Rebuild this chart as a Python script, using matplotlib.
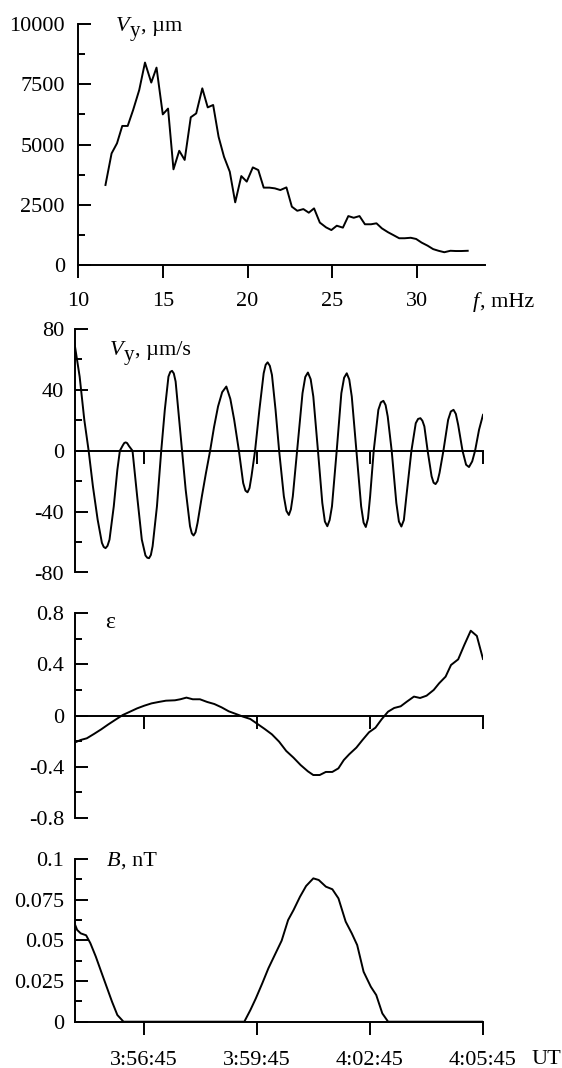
import numpy as np
import matplotlib.pyplot as plt
from matplotlib.ticker import MultipleLocator

plt.rcParams['font.family'] = ['Liberation Serif', 'DejaVu Serif']
plt.rcParams['font.size'] = 16
plt.rcParams['axes.unicode_minus'] = False

# --- spectrum (top panel) ---
freq = [11.62, 11.98, 12.30, 12.61, 12.93, 13.25, 13.61, 13.95, 14.32, 14.63,
        15.00, 15.31, 15.63, 15.97, 16.29, 16.65, 16.97, 17.33, 17.65, 17.97,
        18.29, 18.61, 18.95, 19.27, 19.63, 19.95, 20.31, 20.63, 20.95, 21.29,
        21.61, 21.93, 22.29, 22.61, 22.93, 23.29, 23.61, 23.92, 24.26, 24.63,
        24.94, 25.26, 25.62, 25.94, 26.26, 26.60, 26.92, 27.28, 27.60, 27.92,
        28.28, 28.60, 28.94, 29.26, 29.62, 29.94, 30.26, 30.62, 30.94, 31.26,
        31.60, 31.96, 32.28, 32.60, 32.98]
spec = [3320, 4630, 5050, 5770, 5770, 6430, 7260, 8400, 7570, 8190,
        6250, 6490, 3970, 4740, 4360, 6130, 6290, 7330, 6540, 6640,
        5320, 4490, 3870, 2600, 3690, 3460, 4050, 3940, 3210, 3210,
        3180, 3110, 3220, 2420, 2250, 2320, 2170, 2350, 1760, 1560,
        1450, 1630, 1550, 2030, 1960, 2030, 1690, 1690, 1730, 1520,
        1360, 1240, 1110, 1110, 1130, 1080, 930, 800, 660, 590,
        530, 590, 580, 580, 590]

# --- time series, seconds after 3:56:45 UT ---
t_vy = [-110, -101.8, -94.4, -87.5, -80.7, -73.2, -66.4, -63.5, -60.6, -57.5,
        -54.3, -47.5, -41.8, -37.8, -33.2, -30.8, -28.6, -26.2, -23.5, -17.7,
        -10.3, -2.9, 2.9, 5.8, 8.6, 11.5, 14.3, 21.2, 28.0, 33.7,
        39.5, 42.4, 45.2, 48.0, 50.9, 56.6, 61.2, 66.9, 73.8, 76.7,
        79.5, 82.6, 85.8, 92.7, 99.0, 105.8, 112.0, 118.4, 125.0, 131.6,
        138.0, 144.1, 151.6, 158.4, 162.0, 165.3, 168.5, 171.6, 177.3, 184.2,
        191.0, 194.2, 197.3, 200.8, 204.2, 209.9, 215.6, 223.1, 227.2, 231.1,
        234.3, 237.4, 244.2, 252.8, 257.2, 261.4, 265.8, 270.0, 277.4, 284.3,
        288.4, 292.3, 296.0, 299.7, 307.2, 314.6, 319.0, 323.2, 327.2, 331.2,
        338.6, 346.1, 350.0, 353.5, 357.0, 360.4, 366.1, 373.5, 377.5, 381.5,
        385.0, 388.4, 394.7, 402.1, 406.2, 410.1, 414.1, 418.1, 426.1, 433.0,
        436.7, 440.4, 443.6, 446.7, 451.9, 458.2, 461.4, 464.5, 467.7, 470.8,
        477.0, 484.5, 488.8, 493.1, 496.8, 500.5, 507.4, 513.1, 517.7, 522.8,
        527.4, 533.7, 540.0]
vy = [70.6, 48.7, 20.3, 0, -23.4, -45.2, -60.5, -63.2, -64.0, -62.5,
      -58.4, -36.5, -12.5, 0, 3.5, 5.1, 5.5, 5.0, 3.2, 0,
      -29.9, -58.4, -68.8, -70.3, -70.6, -68.5, -62.7, -36.5, 0, 26.9,
      48.7, 51.8, 52.5, 50.8, 45.5, 20.3, 0, -25.6, -49.6, -54.3,
      -55.7, -53.6, -47.4, -29.9, -15.0, 0, 15.5, 29.1, 38.5, 42.2,
      34.0, 20.3, 0, -21.2, -26.2, -27.3, -24.5, -16.8, 0, 26.9,
      50.9, 56.5, 58.1, 55.8, 49.8, 26.9, 0, -29.9, -39.5, -42.2,
      -38.5, -29.9, 0, 37.8, 48.5, 51.4, 47.0, 35.6, 0, -34.3,
      -46.5, -49.6, -45.5, -36.5, 0, 37.8, 48.0, 50.9, 46.8, 35.6,
      0, -36.5, -47.2, -50.1, -44.5, -29.9, 0, 26.9, 31.8, 32.8,
      30.0, 22.5, 0, -34.3, -46.5, -49.8, -45.5, -29.9, 0, 18.1,
      20.9, 21.4, 19.7, 16.0, 0, -16.8, -21.0, -21.9, -19.9, -14.6,
      0, 20.3, 25.8, 26.9, 24.2, 17.0, 0, -9.2, -10.7, -7.0,
      0, 13.8, 23.6]

t_eps = [-110, -100.1, -90.4, -79.0, -67.5, -56.1, -44.6, -33.2, -21.7, -10.3,
         1.1, 12.6, 24.0, 35.5, 49.8, 58.4, 68.1, 78.2, 89.6, 101.1,
         112.5, 124.0, 135.4, 146.9, 158.3, 169.7, 181.2, 192.6, 204.1, 215.5,
         226.9, 238.4, 249.8, 261.3, 269.9, 280.2, 289.9, 300.2, 309.9, 318.5,
         327.1, 338.5, 348.3, 358.6, 368.9, 378.6, 388.9, 398.7, 409.0, 418.7,
         430.1, 439.9, 450.2, 461.6, 470.2, 480.5, 489.1, 500.5, 510.2, 520.5,
         530.2, 540.0]
eps = [-0.211, -0.190, -0.177, -0.143, -0.107, -0.068, -0.031, 0.005, 0.031, 0.057,
       0.078, 0.096, 0.107, 0.117, 0.120, 0.128, 0.141, 0.128, 0.128, 0.107,
       0.091, 0.065, 0.034, 0.013, -0.008, -0.026, -0.065, -0.104, -0.146, -0.203,
       -0.276, -0.328, -0.386, -0.435, -0.464, -0.464, -0.440, -0.440, -0.412, -0.347,
       -0.302, -0.250, -0.190, -0.130, -0.094, -0.029, 0.031, 0.060, 0.073, 0.109,
       0.149, 0.138, 0.156, 0.201, 0.253, 0.305, 0.396, 0.440, 0.552, 0.664,
       0.623, 0.443]

t_b = [-110, -105.8, -100.1, -91.5, -84.7, -76.1, -67.5, -58.9, -50.3, -41.8,
       -32.0, 160.2, 169.9, 178.5, 188.8, 198.5, 209.9, 219.6, 229.9, 238.5,
       248.8, 258.5, 270.0, 278.6, 290.0, 300.3, 310.0, 321.5, 331.2, 339.8,
       350.0, 361.5, 370.1, 379.8, 389.0, 540.0]
b_nt = [0.0605, 0.0564, 0.0543, 0.0531, 0.0482, 0.0400, 0.0307, 0.0215, 0.0123, 0.0041,
        0, 0, 0.0072, 0.0143, 0.0236, 0.0328, 0.0420, 0.0498, 0.0625, 0.0686,
        0.0768, 0.0834, 0.0881, 0.0871, 0.0830, 0.0814, 0.0758, 0.0615, 0.0543, 0.0471,
        0.0307, 0.0215, 0.0164, 0.0051, 0, 0]

time_labels = ['3:56:45', '3:59:45', '4:02:45', '4:05:45']
spec_ticks = [0, 2500, 5000, 7500, 10000]
vy_ticks = [-80, -40, 0, 40, 80]
eps_ticks = [-0.8, -0.4, 0, 0.4, 0.8]
eps_labels = ['-0.8', '-0.4', '0', '0.4', '0.8']
b_ticks = [0, 0.025, 0.05, 0.075, 0.1]
b_labels = ['0', '0.025', '0.05', '0.075', '0.1']


def to_sec(s):
    h, m, sec = [int(v) for v in s.split(':')]
    return h * 3600 + m * 60 + sec

t_ref = to_sec('3:56:45')
time_ticks = [to_sec(s) - t_ref for s in time_labels]

W, H = 562, 1068
fig = plt.figure(figsize=(W / 100, H / 100), dpi=100)
renderer = fig.canvas.get_renderer()


def box(l, r, t, b):
    return [l / W, 1 - b / H, (r - l) / W, (b - t) / H]


def style(ax, ypad=7.5):
    for s in ['top', 'right']:
        ax.spines[s].set_visible(False)
    for s in ['left', 'bottom']:
        ax.spines[s].set_linewidth(1.4)
    ax.tick_params(axis='y', which='major', direction='in', length=9.5, width=1.4, pad=ypad)
    ax.tick_params(axis='y', which='minor', direction='in', length=5, width=1.4)
    ax.tick_params(axis='x', which='major', direction='out', length=9, width=1.4)


def fix_ylabels(ax):
    # the printed figure sits its tick numbers a little below the tick
    plt.setp(ax.get_yticklabels(), va='center_baseline')


def label(x, y, parts):
    # pieces of text written one after the other, (text, style, size, drop in px)
    for s, st, size, dy in parts:
        t = fig.text(x / W, 1 - (y + dy) / H, s, fontsize=size, style=st)
        x = t.get_window_extent(renderer).x1 + 0.5


lw = 1.4

# top: spectrum
ax1 = fig.add_axes(box(78, 485, 24, 265))
style(ax1, ypad=9.5)
ax1.plot(freq, spec, color='black', lw=lw)
ax1.set_xlim(10, 34)
ax1.set_ylim(0, 10000)
ax1.set_xticks([10, 15, 20, 25, 30])
ax1.set_yticks(spec_ticks)
ax1.set_yticklabels([str(v) for v in spec_ticks])
ax1.yaxis.set_minor_locator(MultipleLocator(1250))
ax1.tick_params(axis='x', pad=10.5)
fix_ylabels(ax1)
label(116, 31, [('V', 'italic', 16, 0), ('y', 'normal', 15, 5), (', µm', 'normal', 16, 0)])
label(473, 307, [('f', 'italic', 16, 0), (', mHz', 'normal', 16, 0)])

# Vy oscillation
ax2 = fig.add_axes(box(74.5, 483, 329, 572.5))
style(ax2)
ax2.plot(t_vy, vy, color='black', lw=lw)
ax2.set_xlim(-110, time_ticks[-1])
ax2.set_ylim(-80, 80)
ax2.spines['bottom'].set_position(('data', 0))
ax2.set_xticks(time_ticks)
ax2.set_xticklabels([])
ax2.set_yticks(vy_ticks)
ax2.set_yticklabels([str(v) for v in vy_ticks])
ax2.yaxis.set_minor_locator(MultipleLocator(20))
fix_ylabels(ax2)
label(110, 355, [('V', 'italic', 16, 0), ('y', 'normal', 15, 5), (', µm/s', 'normal', 16, 0)])

# epsilon
ax3 = fig.add_axes(box(74.5, 483, 613.3, 818))
style(ax3)
ax3.plot(t_eps, eps, color='black', lw=lw)
ax3.set_xlim(-110, time_ticks[-1])
ax3.set_ylim(-0.8, 0.8)
ax3.spines['bottom'].set_position(('data', 0))
ax3.set_xticks(time_ticks)
ax3.set_xticklabels([])
ax3.set_yticks(eps_ticks)
ax3.set_yticklabels(eps_labels)
ax3.yaxis.set_minor_locator(MultipleLocator(0.2))
fix_ylabels(ax3)
fig.text(105 / W, 1 - 628 / H, 'ε', fontsize=17)

# B
ax4 = fig.add_axes(box(74.5, 483, 859, 1021.7))
style(ax4)
ax4.plot(t_b, b_nt, color='black', lw=lw)
ax4.set_xlim(-110, time_ticks[-1])
ax4.set_ylim(0, 0.1)
ax4.set_xticks(time_ticks)
ax4.set_xticklabels(time_labels)
ax4.tick_params(axis='x', pad=12)
ax4.set_yticks(b_ticks)
ax4.set_yticklabels(b_labels)
ax4.yaxis.set_minor_locator(MultipleLocator(0.0125))
fix_ylabels(ax4)
label(107, 866, [('B', 'italic', 16, 0), (', nT', 'normal', 16, 0)])
fig.text(532 / W, 1 - 1064 / H, 'UT', fontsize=16)

fig.savefig('out.png', dpi=100)
